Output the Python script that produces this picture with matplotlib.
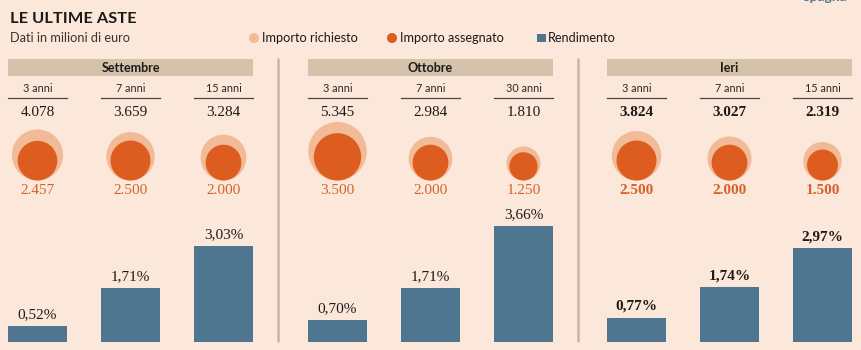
import matplotlib.pyplot as plt
from matplotlib.patches import Circle, Rectangle

# dati
mesi = ["Settembre", "Ottobre", "Ieri"]
durate = [["3 anni", "7 anni", "15 anni"],
          ["3 anni", "7 anni", "30 anni"],
          ["3 anni", "7 anni", "15 anni"]]
richiesto = [[4078, 3659, 3284], [5345, 2984, 1810], [3824, 3027, 2319]]
assegnato = [[2457, 2500, 2000], [3500, 2000, 1250], [2500, 2000, 1500]]
rendimento = [[0.52, 1.71, 3.03], [0.70, 1.71, 3.66], [0.77, 1.74, 2.97]]

BG = "#FBE8DA"
BAND = "#D4C2AB"
SEP = "#C9B5A5"
ORANGE = "#DD5C1F"
LIGHT = "#F1BB97"
ORANGE_TXT = "#D6622B"
BLUE = "#4F7590"
DARK = "#1E1A18"

SANS = ["Lato", "DejaVu Sans"]
SERIF = ["Liberation Serif", "DejaVu Serif"]

W, H = 861, 350
fig = plt.figure(figsize=(W / 100, H / 100), dpi=100, facecolor=BG)
ax = fig.add_axes([0, 0, 1, 1])
ax.set_xlim(0, W)
ax.set_ylim(H, 0)
ax.axis("off")

# bar axes: baseline at y=342 px, 1% = 31.7 px
base = 342
ymax = 4.0
px_per = 31.7
axb = fig.add_axes([0, (H - base) / H, 1, ymax * px_per / H])
axb.set_xlim(0, W)
axb.set_ylim(0, ymax)
axb.axis("off")
axb.patch.set_alpha(0)

# titolo e legenda
ax.text(10, 19, "LE ULTIME ASTE", family=SANS, fontsize=11.8, weight="bold",
        color=DARK, va="center", ha="left")
ax.text(10, 38, "Dati in milioni di euro", family=SANS, fontsize=9.2,
        color="#3a3330", va="center", ha="left")
ax.text(847, 1.0, "Spagna", family=SANS, fontsize=10, weight="bold",
        color=BLUE, va="baseline", ha="right")

ax.add_patch(Circle((254, 38), 5, color=LIGHT, lw=0))
ax.text(262, 38, "Importo richiesto", family=SANS, fontsize=9.2,
        color=DARK, va="center")
ax.add_patch(Circle((392, 38), 5, color=ORANGE, lw=0))
ax.text(400, 38, "Importo assegnato", family=SANS, fontsize=9.2,
        color=DARK, va="center")
ax.add_patch(Rectangle((537, 33.5), 8.5, 8.5, color=BLUE, lw=0))
ax.text(548, 38, "Rendimento", family=SANS, fontsize=9.2,
        color=DARK, va="center")

# separatori
for xs in (277.5, 577.5):
    ax.plot([xs, xs], [58, base], color=SEP, lw=1.8, solid_capstyle="butt")

k = 0.400  # raggio in px per sqrt(milioni)
circle_bottom = 180.5
group_x0 = [8, 308, 607]
col_off = [0, 93, 186]
col_w = 59

for g, mese in enumerate(mesi):
    x0 = group_x0[g]
    bold = "bold" if mese == "Ieri" else "normal"
    ax.add_patch(Rectangle((x0, 59), 245, 17, color=BAND, lw=0))
    ax.text(x0 + 122.5, 67.5, mese, family=SANS, fontsize=9,
            weight="bold", color=DARK, ha="center", va="center")
    for c in range(3):
        left = x0 + col_off[c]
        cx = left + col_w / 2
        ax.text(cx, 88, durate[g][c], family=SANS, fontsize=7.8,
                color="#2e2826", ha="center", va="center")
        ax.plot([left, left + col_w], [98, 98], color="#4a4442", lw=0.9)

        ax.text(cx, 112, f"{richiesto[g][c]:,}".replace(",", "."),
                family=SERIF, fontsize=11, color=DARK, ha="center",
                va="center", weight=bold)
        r1 = k * richiesto[g][c] ** 0.5
        r2 = k * assegnato[g][c] ** 0.5
        ax.add_patch(Circle((cx, circle_bottom - r1), r1, color=LIGHT, lw=0))
        ax.add_patch(Circle((cx, circle_bottom - r2), r2, color=ORANGE, lw=0))
        ax.text(cx, 191, f"{assegnato[g][c]:,}".replace(",", "."),
                family=SERIF, fontsize=11, color=ORANGE_TXT, ha="center",
                va="center", weight=bold)

        v = rendimento[g][c]
        axb.bar(cx, v, width=col_w, color=BLUE, lw=0)
        axb.annotate(f"{v:.2f}%".replace(".", ","), (cx, v),
                     xytext=(0, 8), textcoords="offset points",
                     family=SERIF, fontsize=11, color=DARK,
                     ha="center", va="center", weight=bold)

fig.savefig("out.png", dpi=100, facecolor=BG)
